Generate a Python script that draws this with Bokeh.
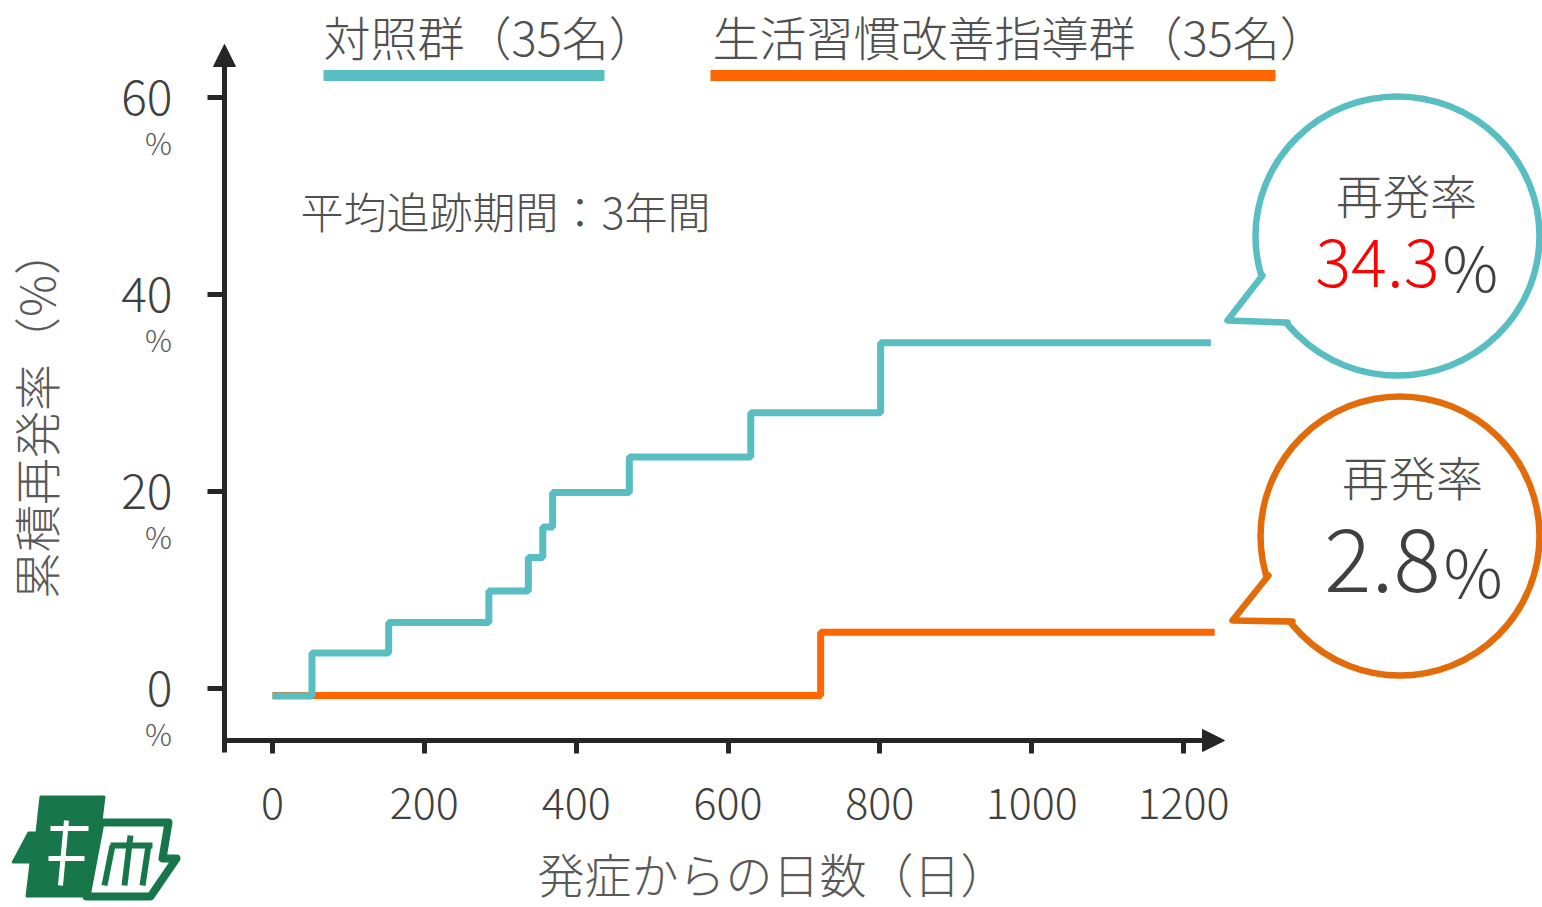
import math
from bokeh.plotting import figure
from bokeh.models import Range1d, Arrow, NormalHead, FixedTicker
from bokeh.core.properties import value
from bokeh.embed import file_html
from bokeh.resources import INLINE

# ---------------- data ----------------
ctrl_days = [0, 52, 153, 285, 337, 356, 369, 470, 630, 801, 1236]
ctrl_rate = [-0.75, 3.6, 6.7, 9.9, 13.3, 16.4, 19.9, 23.5, 28.0, 35.1, 35.1]
life_days = [0, 722, 1241]
life_rate = [-0.7, 5.7, 5.7]
series_names = ["対照群（35名）", "生活習慣改善指導群（35名）"]
series_colors = ["#59BEC1", "#FF6600"]
bubble_colors = ["#59BEC1", "#E36C0A"]
rate_values = ["34.3", "2.8"]
rate_colors = ["#FF0000", "#404040"]
x_ticks = [0, 200, 400, 600, 800, 1000, 1200]
y_ticks = [0, 20, 40, 60]
y_tick_labels = ["0", "20", "40", "60"]
title_text = "平均追跡期間：3年間"
x_label = "発症からの日数（日）"
y_label = "累積再発率（%）"
bubble_title = "再発率"

# ---------------- geometry helpers (canvas px -> data) ----------------
W, H = 1542, 907
X0PX, XSCALE = 272.0, 0.7592   # px of x=0, px per day
Y0PX, YSCALE = 688.0, 9.85     # px of y=0, px per %
def px2x(px):
    return (px - X0PX) / XSCALE
def py2y(py):
    return (Y0PX - py) / YSCALE

FONT = "Noto Sans CJK JP Light, Noto Sans CJK JP"
TXT = "#404040"
AX = "#262626"

p = figure(width=W, height=H, output_backend="svg", toolbar_location=None,
           x_range=Range1d(px2x(0), px2x(W)),
           y_range=Range1d(py2y(H), py2y(0)), min_border=0)
p.outline_line_color = None
p.xgrid.visible = False
p.ygrid.visible = False
p.background_fill_color = "white"
p.border_fill_color = "white"

# axes (fixed inside the frame)
p.xaxis.fixed_location = py2y(740)
p.yaxis.fixed_location = px2x(224)
p.xaxis.ticker = FixedTicker(ticks=x_ticks)
p.yaxis.ticker = FixedTicker(ticks=y_ticks)
p.yaxis.major_label_overrides = {t: s for t, s in zip(y_ticks, y_tick_labels)}
for ax in (p.xaxis, p.yaxis):
    ax.axis_line_width = 5
    ax.axis_line_color = AX
    ax.major_tick_line_width = 5
    ax.major_tick_line_color = AX
    ax.major_tick_in = 0
    ax.minor_tick_line_color = None
    ax.major_label_text_font = FONT
    ax.major_label_text_color = TXT
p.xaxis.major_tick_out = 13
p.yaxis.major_tick_out = 17
p.xaxis.major_label_text_font_size = "43px"
p.yaxis.major_label_text_font_size = "48px"
p.xaxis.major_label_standoff = 34
p.yaxis.major_label_standoff = 35
p.xaxis.bounds = (px2x(221.5), px2x(1212))
p.yaxis.bounds = (py2y(752), py2y(58))

# axis arrows
p.add_layout(Arrow(end=NormalHead(size=22, fill_color=AX, line_color=AX, line_width=1),
                   x_start=px2x(1190), y_start=py2y(740), x_end=px2x(1224), y_end=py2y(740),
                   line_width=5, line_color=AX))
p.add_layout(Arrow(end=NormalHead(size=22, fill_color=AX, line_color=AX, line_width=1),
                   x_start=px2x(224), y_start=py2y(80), x_end=px2x(224), y_end=py2y(44),
                   line_width=5, line_color=AX))

# "%" under y tick labels
p.text(x=[px2x(158)] * len(y_ticks), y=[t - 44 / YSCALE for t in y_ticks],
       text=["%"] * len(y_ticks), text_font=value(FONT), text_font_size="30px",
       text_color="#595959", text_align="center", text_baseline="middle")

# axis titles
p.text(x=[px2x(772)], y=[py2y(872)], text=[x_label], text_font=value(FONT),
       text_font_size="47px", text_color="#595959", text_align="center",
       text_baseline="middle")
p.text(x=[px2x(34)], y=[py2y(413)], text=[y_label], text_font=value(FONT),
       text_font_size="47px", text_color="#595959", angle=math.pi / 2,
       text_align="center", text_baseline="middle")

# series
p.step(life_days, life_rate, mode="after", line_color=series_colors[1], line_width=7)
p.step(ctrl_days, ctrl_rate, mode="after", line_color=series_colors[0], line_width=7)

# legend (custom: text above thick line)
p.text(x=[px2x(323), px2x(712)], y=[py2y(35), py2y(35)], text=series_names,
       text_font=value(FONT), text_font_size="47px", text_color="#505050",
       text_align="left", text_baseline="middle")
p.segment(x0=[px2x(323), px2x(710)], x1=[px2x(604), px2x(1275)],
          y0=[py2y(75)] * 2, y1=[py2y(75)] * 2, line_color=series_colors, line_width=11)

# in-plot note
p.text(x=[px2x(300)], y=[py2y(209)], text=[title_text], text_font=value(FONT),
       text_font_size="43px", text_color="#505050", text_align="left",
       text_baseline="middle")

# speech bubbles
centers = [(1397.0, 235.5), (1399.5, 535.5)]
bw = [284, 279]
bh = [279, 279]
tails = [[(1262, 275), (1227, 320), (1287, 322)],
         [(1268, 575), (1232, 620), (1292, 621)]]
p.ellipse([px2x(c[0]) for c in centers], [py2y(c[1]) for c in centers],
          width=bw, height=bh, width_units="screen", height_units="screen",
          fill_color="white", line_color=bubble_colors, line_width=6.5)
for (cx, cy), tl, col in zip(centers, tails, bubble_colors):
    poly = tl + [(cx, cy)]
    p.patch([px2x(a) for a, b in poly], [py2y(b) for a, b in poly],
            fill_color="white", line_color=None)
    p.line([px2x(a) for a, b in tl], [py2y(b) for a, b in tl], line_color=col,
           line_width=6.5, line_join="round", line_cap="round")

# bubble texts
p.text(x=[px2x(1406), px2x(1412)], y=[py2y(193), py2y(475)], text=[bubble_title] * 2,
       text_font=value(FONT), text_font_size="47px", text_color="#505050",
       text_align="center", text_baseline="middle")
p.text(x=[px2x(1439)], y=[py2y(262)], text=[rate_values[0]], text_font=value(FONT),
       text_font_size="67px", text_color=rate_colors[0], text_align="right",
       text_baseline="alphabetic")
p.text(x=[px2x(1442)], y=[py2y(264)], text=["%"], text_font=value(FONT),
       text_font_size="62px", text_color=TXT, text_align="left", text_baseline="alphabetic")
p.text(x=[px2x(1440)], y=[py2y(559)], text=[rate_values[1]], text_font=value(FONT),
       text_font_size="88px", text_color=rate_colors[1], text_align="right",
       text_baseline="alphabetic")
p.text(x=[px2x(1443)], y=[py2y(568)], text=["%"], text_font=value(FONT),
       text_font_size="66px", text_color=TXT, text_align="left", text_baseline="alphabetic")

# logo (shape approximation)
LOGO_G = "#17774A"
left_blk = [(40, 796), (104, 796), (92, 896), (26, 896), (30, 862), (12, 862), (28, 832), (36, 832)]
right_blk = [(100, 822), (168, 822), (162, 858), (176, 858), (150, 896), (86, 896)]
p.patch([px2x(a) for a, b in left_blk], [py2y(b) for a, b in left_blk],
        fill_color=LOGO_G, line_color=LOGO_G, line_width=2)
p.patch([px2x(a) for a, b in right_blk], [py2y(b) for a, b in right_blk],
        fill_color="white", line_color=LOGO_G, line_width=8, line_join="round")
p.multi_line(xs=[[px2x(50), px2x(88)], [px2x(48), px2x(84)], [px2x(66), px2x(60)]],
             ys=[[py2y(828), py2y(828)], [py2y(858), py2y(858)], [py2y(820), py2y(885)]],
             line_color="white", line_width=5)
p.multi_line(xs=[[px2x(112), px2x(104)], [px2x(130), px2x(124)], [px2x(148), px2x(142)],
                 [px2x(110), px2x(152)]],
             ys=[[py2y(845), py2y(885)], [py2y(835), py2y(885)], [py2y(845), py2y(885)],
                 [py2y(845), py2y(845)]],
             line_color=LOGO_G, line_width=6)

open("out.html", "w").write(file_html(p, INLINE))
